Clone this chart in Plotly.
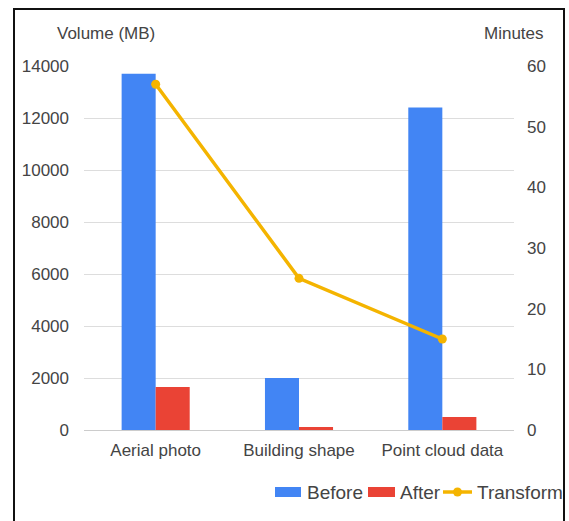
import plotly.graph_objects as go

# Data volumes before/after processing and transform times
categories = ["Aerial photo", "Building shape", "Point cloud data"]
before_mb = [13700, 2000, 12400]
after_mb = [1650, 120, 500]
transform_min = [57, 25, 15]

series_names = ["Before", "After", "Transform"]
BLUE, RED, YELLOW = "#4285F4", "#EA4335", "#F4B400"

FONT = "Arial, Liberation Sans, sans-serif"
TEXT = "#444444"

# plot area in pixels (used to place the frame and the legend row)
W, H = 569, 521
L, R, T, B = 84, 55, 66, 91
PW, PH = W - L - R, H - T - B


def px(x):
    return (x - L) / PW


def py(y):
    return (H - B - y) / PH


fig = go.Figure()
fig.add_trace(go.Bar(x=categories, y=before_mb, name=series_names[0],
                     marker=dict(color=BLUE, line=dict(width=0))))
fig.add_trace(go.Bar(x=categories, y=after_mb, name=series_names[1],
                     marker=dict(color=RED, line=dict(width=0))))
fig.add_trace(go.Scatter(x=categories, y=transform_min, name=series_names[2],
                         yaxis="y2", mode="lines+markers",
                         line=dict(color=YELLOW, width=3.5),
                         marker=dict(color=YELLOW, size=9)))

# legend row drawn as shapes + labels
legend_shapes = [
    dict(type="rect", xref="paper", yref="paper",
         x0=px(275), x1=px(301), y0=py(497), y1=py(487),
         fillcolor=BLUE, line=dict(width=0)),
    dict(type="rect", xref="paper", yref="paper",
         x0=px(368), x1=px(395), y0=py(497), y1=py(487),
         fillcolor=RED, line=dict(width=0)),
    dict(type="line", xref="paper", yref="paper",
         x0=px(443), x1=px(472), y0=py(492), y1=py(492),
         line=dict(color=YELLOW, width=3.5)),
    dict(type="circle", xref="paper", yref="paper",
         x0=px(453), x1=px(462), y0=py(496.5), y1=py(487.5),
         fillcolor=YELLOW, line=dict(width=0)),
]
legend_labels = [
    dict(text=series_names[0], x=px(305)),
    dict(text=series_names[1], x=px(397.5)),
    dict(text=series_names[2], x=px(474.5)),
]
legend_annotations = [
    dict(text=d["text"], xref="paper", yref="paper", x=d["x"], y=py(492),
         xanchor="left", yanchor="middle", showarrow=False,
         font=dict(size=19, color=TEXT))
    for d in legend_labels
]

fig.update_layout(
    width=W, height=H,
    margin=dict(l=L, r=R, t=T, b=B, autoexpand=False),
    paper_bgcolor="white", plot_bgcolor="white",
    font=dict(family=FONT, size=17, color=TEXT),
    barmode="group", bargap=0.525, bargroupgap=0,
    showlegend=False,
    xaxis=dict(showgrid=False, showline=False, ticks="", ticklabelstandoff=8,
               tickfont=dict(size=17, color=TEXT)),
    yaxis=dict(range=[0, 14000], dtick=2000, tickformat="d",
               showgrid=True, gridcolor="#dddddd", gridwidth=1,
               zeroline=True, zerolinecolor="#cccccc", zerolinewidth=1,
               showline=False, ticks="", ticklabelstandoff=14,
               tickfont=dict(size=17, color=TEXT)),
    yaxis2=dict(range=[0, 60], dtick=10, overlaying="y", side="right",
                showgrid=False, zeroline=False, showline=False, ticks="",
                ticklabelstandoff=12, tickfont=dict(size=17, color=TEXT)),
    annotations=[
        dict(text="Volume (MB)", xref="paper", yref="paper", x=px(106),
             y=py(33), xanchor="center", yanchor="middle", showarrow=False,
             font=dict(size=17, color=TEXT)),
        dict(text="Minutes", xref="paper", yref="paper", x=px(514),
             y=py(33), xanchor="center", yanchor="middle", showarrow=False,
             font=dict(size=17, color=TEXT)),
    ] + legend_annotations,
    shapes=[
        dict(type="rect", xref="paper", yref="paper",
             x0=px(14), x1=px(564), y0=py(540), y1=py(9),
             line=dict(color="#111111", width=2), fillcolor="rgba(0,0,0,0)",
             layer="above"),
    ] + legend_shapes,
)

fig.write_html("out.html")
